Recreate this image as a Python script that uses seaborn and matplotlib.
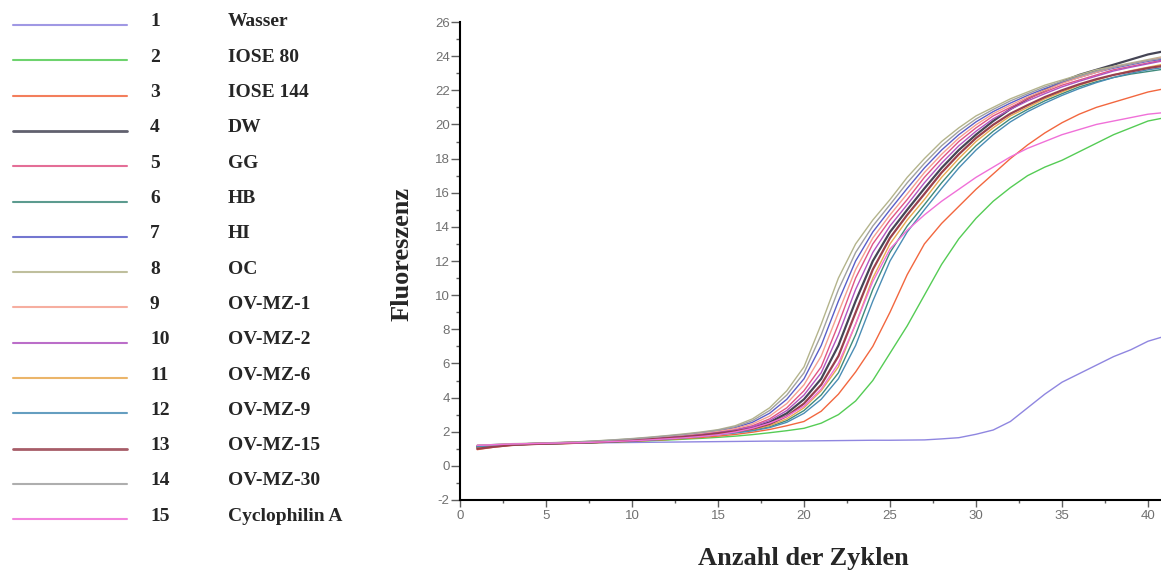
import numpy as np
import pandas as pd
import matplotlib
matplotlib.use("Agg")
import matplotlib.pyplot as plt
from matplotlib.ticker import MultipleLocator
import seaborn as sns

# cycle numbers
cycles = list(range(1, 42))

# sample names as in the legend
samples = [
    "Wasser", "IOSE 80", "IOSE 144", "DW", "GG", "HB", "HI", "OC",
    "OV-MZ-1", "OV-MZ-2", "OV-MZ-6", "OV-MZ-9", "OV-MZ-15", "OV-MZ-30",
    "Cyclophilin A",
]

colors = [
    "#8f86e0", "#55cc55", "#f2673f", "#454555", "#e05585", "#3f8a7c",
    "#5a5ec8", "#b4b48c", "#f5a090", "#b055c0", "#e8a850", "#4a8db5",
    "#98404e", "#a0a0a0", "#f070d8",
]

# fluorescence, cycles 1..41
wasser = [1.2, 1.25, 1.28, 1.3, 1.32, 1.33, 1.34, 1.35, 1.36, 1.37, 1.38, 1.39, 1.4, 1.41,
          1.42, 1.43, 1.44, 1.45, 1.45, 1.46, 1.47, 1.48, 1.49, 1.5, 1.5, 1.51, 1.52, 1.58,
          1.65, 1.85, 2.1, 2.6, 3.4, 4.2, 4.9, 5.4, 5.9, 6.4, 6.8, 7.3, 7.6]
iose80 = [1.15, 1.2, 1.24, 1.27, 1.29, 1.31, 1.33, 1.36, 1.39, 1.43, 1.47, 1.51, 1.56, 1.61,
          1.67, 1.74, 1.83, 1.94, 2.06, 2.2, 2.5, 3.0, 3.8, 5.0, 6.6, 8.2, 10.0, 11.8,
          13.3, 14.5, 15.5, 16.3, 17.0, 17.5, 17.9, 18.4, 18.9, 19.4, 19.8, 20.2, 20.4]
iose144 = [0.95, 1.1, 1.2, 1.25, 1.28, 1.3, 1.33, 1.36, 1.4, 1.44, 1.49, 1.54, 1.6, 1.66,
           1.74, 1.84, 1.97, 2.13, 2.35, 2.6, 3.2, 4.2, 5.5, 7.0, 9.0, 11.2, 13.0, 14.2,
           15.2, 16.2, 17.1, 18.0, 18.8, 19.5, 20.1, 20.6, 21.0, 21.3, 21.6, 21.9, 22.1]
dw = [1.1, 1.18, 1.24, 1.28, 1.31, 1.34, 1.37, 1.4, 1.45, 1.5, 1.56, 1.63, 1.71, 1.8,
      1.93, 2.05, 2.24, 2.55, 3.08, 3.9, 5.1, 7.05, 9.65, 12.0, 13.7, 15.0, 16.25, 17.45,
      18.5, 19.4, 20.2, 20.9, 21.5, 22.0, 22.5, 22.9, 23.2, 23.5, 23.8, 24.1, 24.3]
gg = [1.18, 1.22, 1.26, 1.29, 1.32, 1.35, 1.38, 1.42, 1.47, 1.53, 1.6, 1.68, 1.77, 1.87,
      1.98, 2.12, 2.35, 2.75, 3.4, 4.4, 5.8, 8.3, 11.0, 13.0, 14.4, 15.6, 16.9, 18.0,
      19.0, 19.8, 20.5, 21.0, 21.5, 21.9, 22.3, 22.6, 22.9, 23.2, 23.4, 23.6, 23.8]
hb = [1.1, 1.17, 1.23, 1.27, 1.3, 1.32, 1.35, 1.38, 1.42, 1.47, 1.52, 1.58, 1.65, 1.74,
      1.85, 1.95, 2.09, 2.29, 2.65, 3.24, 4.15, 5.45, 7.68, 10.33, 12.5, 14.05, 15.3, 16.58,
      17.73, 18.75, 19.6, 20.33, 20.88, 21.38, 21.8, 22.2, 22.5, 22.75, 22.95, 23.1, 23.25]
hi = [1.15, 1.22, 1.27, 1.3, 1.33, 1.36, 1.4, 1.45, 1.5, 1.57, 1.64, 1.72, 1.82, 1.92,
      2.05, 2.24, 2.55, 3.08, 3.9, 5.1, 7.05, 9.65, 12.0, 13.7, 15.0, 16.25, 17.45, 18.5,
      19.4, 20.15, 20.75, 21.25, 21.7, 22.1, 22.45, 22.75, 23.05, 23.3, 23.5, 23.7, 23.85]
oc = [1.2, 1.25, 1.3, 1.32, 1.35, 1.38, 1.42, 1.47, 1.53, 1.6, 1.68, 1.77, 1.87, 1.98,
      2.12, 2.35, 2.75, 3.4, 4.4, 5.8, 8.3, 11.0, 13.0, 14.4, 15.6, 16.9, 18.0, 19.0,
      19.8, 20.5, 21.0, 21.5, 21.9, 22.3, 22.6, 22.9, 23.2, 23.4, 23.6, 23.8, 24.0]
ovmz1 = [1.2, 1.23, 1.27, 1.3, 1.33, 1.36, 1.39, 1.43, 1.48, 1.55, 1.62, 1.7, 1.79, 1.9,
         2.02, 2.18, 2.45, 2.91, 3.65, 4.75, 6.43, 8.98, 11.5, 13.35, 14.7, 15.93, 17.18, 18.25,
         19.2, 19.98, 20.63, 21.13, 21.6, 22.0, 22.4, 22.75, 23.05, 23.35, 23.55, 23.75, 23.95]
ovmz2 = [1.15, 1.2, 1.25, 1.28, 1.31, 1.34, 1.37, 1.41, 1.46, 1.52, 1.58, 1.66, 1.74, 1.83,
         1.95, 2.09, 2.29, 2.65, 3.24, 4.15, 5.45, 7.68, 10.33, 12.5, 14.05, 15.3, 16.58, 17.73,
         18.75, 19.6, 20.33, 20.88, 21.38, 21.8, 22.2, 22.53, 22.83, 23.13, 23.35, 23.55, 23.75]
ovmz6 = [1.05, 1.15, 1.22, 1.27, 1.3, 1.33, 1.36, 1.39, 1.43, 1.48, 1.54, 1.6, 1.67, 1.76,
         1.87, 1.98, 2.12, 2.35, 2.75, 3.4, 4.4, 5.8, 8.3, 11.0, 13.0, 14.4, 15.6, 16.9,
         18.0, 19.0, 19.8, 20.5, 21.0, 21.5, 21.9, 22.3, 22.6, 22.9, 23.15, 23.35, 23.55]
ovmz9 = [1.12, 1.18, 1.23, 1.27, 1.3, 1.32, 1.35, 1.38, 1.41, 1.46, 1.51, 1.57, 1.64, 1.72,
         1.82, 1.93, 2.05, 2.24, 2.55, 3.08, 3.9, 5.1, 7.05, 9.65, 12.0, 13.7, 15.0, 16.25,
         17.45, 18.5, 19.4, 20.15, 20.75, 21.25, 21.7, 22.1, 22.45, 22.75, 23.0, 23.2, 23.35]
ovmz15 = [1.0, 1.12, 1.22, 1.27, 1.3, 1.33, 1.36, 1.4, 1.44, 1.49, 1.55, 1.62, 1.69, 1.78,
          1.9, 2.02, 2.18, 2.45, 2.91, 3.65, 4.75, 6.43, 8.98, 11.5, 13.35, 14.7, 15.93, 17.18,
          18.25, 19.2, 19.98, 20.63, 21.13, 21.6, 22.0, 22.35, 22.65, 22.9, 23.1, 23.3, 23.45]
ovmz30 = [1.2, 1.24, 1.28, 1.31, 1.34, 1.37, 1.41, 1.46, 1.52, 1.58, 1.66, 1.75, 1.84, 1.95,
          2.09, 2.29, 2.65, 3.24, 4.15, 5.45, 7.68, 10.32, 12.5, 14.05, 15.3, 16.58, 17.72, 18.75,
          19.6, 20.32, 20.88, 21.38, 21.8, 22.2, 22.52, 22.82, 23.12, 23.35, 23.55, 23.75, 23.9]
cyclophilin = [1.2, 1.24, 1.28, 1.3, 1.32, 1.34, 1.36, 1.39, 1.43, 1.47, 1.52, 1.58, 1.64, 1.72,
               1.82, 1.98, 2.2, 2.5, 2.9, 3.5, 4.5, 6.0, 8.3, 10.8, 12.7, 13.8, 14.7, 15.5,
               16.2, 16.9, 17.5, 18.1, 18.6, 19.0, 19.4, 19.7, 20.0, 20.2, 20.4, 20.6, 20.7]

series = [wasser, iose80, iose144, dw, gg, hb, hi, oc, ovmz1, ovmz2, ovmz6, ovmz9,
          ovmz15, ovmz30, cyclophilin]

rows = []
for name, vals in zip(samples, series):
    for c, v in zip(cycles, vals):
        rows.append({"Zyklus": c, "Fluoreszenz": v, "Probe": name})
df = pd.DataFrame(rows)

sns.set_style("white")
plt.rcParams["font.family"] = ["Liberation Sans", "DejaVu Sans"]
plt.rcParams["axes.unicode_minus"] = False

fig = plt.figure(figsize=(11.61, 5.73), dpi=100)
ax = fig.add_axes([460 / 1161, 1 - 500 / 573, 701 / 1161, 478 / 573])

palette = dict(zip(samples, colors))
sns.lineplot(data=df, x="Zyklus", y="Fluoreszenz", hue="Probe", palette=palette,
             linewidth=1.0, legend=False, ax=ax)
# DW is drawn a bit heavier in the original
for line, name in zip(ax.get_lines(), samples):
    if name in ("DW", "OV-MZ-15"):
        line.set_linewidth(1.6)

ax.set_xlim(0, 701 / 17.2)
ax.set_ylim(-2, 26)
ax.xaxis.set_major_locator(MultipleLocator(5))
ax.xaxis.set_minor_locator(MultipleLocator(2.5))
ax.yaxis.set_major_locator(MultipleLocator(2))
ax.yaxis.set_minor_locator(MultipleLocator(1))
ax.tick_params(axis="y", which="major", length=6.5, width=1, color="#606060",
               labelsize=9.5, labelcolor="#707070", pad=1, left=True)
ax.tick_params(axis="y", which="minor", length=3, width=1, color="#606060", left=True)
ax.tick_params(axis="x", which="major", length=5, width=1, color="#606060",
               labelsize=9.5, labelcolor="#707070", pad=2, bottom=True)
ax.tick_params(axis="x", which="minor", length=2, width=1, color="#606060", bottom=True)
for s in ["top", "right"]:
    ax.spines[s].set_visible(False)
for s in ["left", "bottom"]:
    ax.spines[s].set_color("black")
    ax.spines[s].set_linewidth(1.5)
ax.set_xlabel("")
ax.set_ylabel("")

serif = ["Liberation Serif", "DejaVu Serif"]
fig.text(803 / 1161, 1 - 558 / 573, "Anzahl der Zyklen", family=serif, weight="bold",
         fontsize=19, ha="center", va="center")
fig.text(402 / 1161, 1 - 254 / 573, "Fluoreszenz", family=serif, weight="bold",
         fontsize=19, ha="center", va="center", rotation=90)

# legend column on the left: line sample, number, name
for i, (name, col) in enumerate(zip(samples, colors)):
    y = 1 - (22 + i * 35.3) / 573
    fig.add_artist(plt.Line2D([13 / 1161, 127 / 1161], [y - 3 / 573, y - 3 / 573],
                              color=col, linewidth=2 if name in ("DW", "OV-MZ-15") else 1.5,
                              alpha=0.85))
    fig.text(150 / 1161, y, str(i + 1), family=serif, weight="bold", fontsize=14,
             ha="left", va="center")
    fig.text(228 / 1161, y, name, family=serif, weight="bold", fontsize=14,
             ha="left", va="center")

fig.savefig("out.png", dpi=100)
